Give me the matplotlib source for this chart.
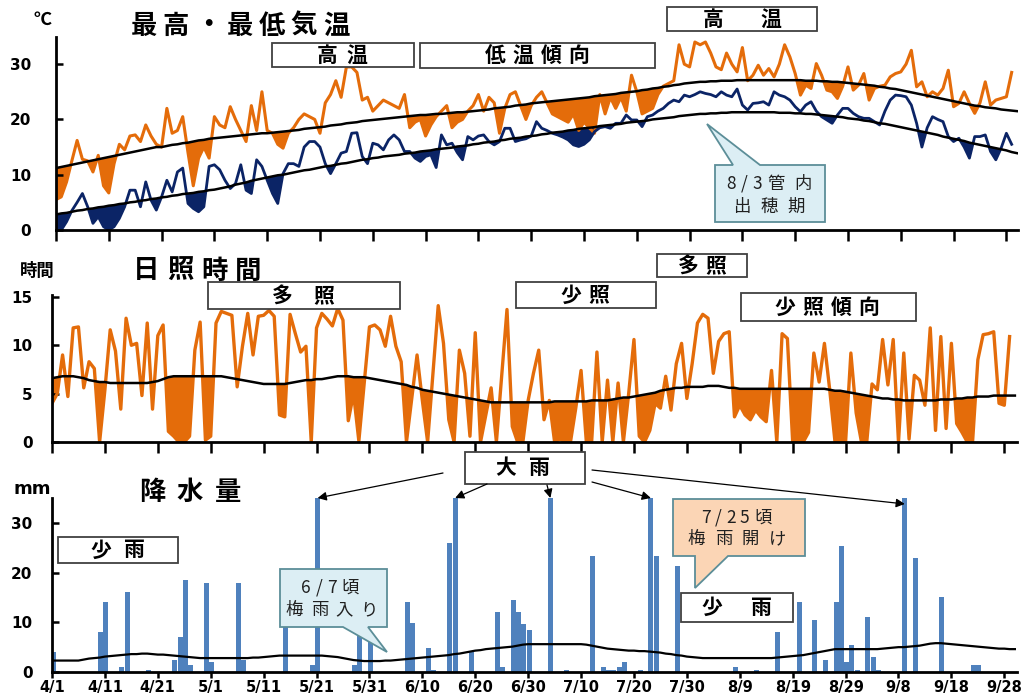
import matplotlib
matplotlib.use('Agg')
import matplotlib.pyplot as plt
import numpy as np
from matplotlib.patches import Rectangle, Polygon

FAM = ['Noto Sans CJK JP', 'DejaVu Sans']
plt.rcParams['font.family'] = FAM

# ---------------- data ----------------
tick_days = list(range(0, 181, 10))
tick_labels = ['4/1', '4/11', '4/21', '5/1', '5/11', '5/21', '5/31', '6/10', '6/20', '6/30',
               '7/10', '7/20', '7/30', '8/9', '8/19', '8/29', '9/8', '9/18', '9/28']

tmax = [5.5, 6.0, 8.7, 12.5, 16.2, 12.8, 12.5, 10.5, 13.5, 8.0,
        6.7, 12.0, 15.5, 14.5, 17.0, 17.2, 16.0, 19.0, 17.0, 15.5,
        15.0, 22.0, 17.5, 18.0, 20.5, 14.0, 8.0, 13.0, 15.0, 13.0,
        20.5, 19.0, 18.5, 22.3, 20.0, 18.0, 16.0, 22.5, 18.0, 25.0,
        18.0, 17.5, 15.5, 14.8, 17.5, 18.5, 20.0, 21.0, 20.5, 20.0,
        17.5, 23.0, 24.5, 27.0, 24.0, 29.5, 29.5, 28.5, 23.5, 24.0,
        21.5, 22.5, 23.5, 23.0, 22.5, 22.0, 24.5, 18.5, 19.5, 20.0,
        17.0, 19.0, 20.5, 21.5, 22.5, 18.5, 19.5, 20.0, 21.5, 22.5,
        24.5, 21.5, 24.0, 23.0, 17.5, 22.0, 24.5, 25.0, 22.5, 20.0,
        22.5, 24.0, 25.0, 23.0, 21.0, 20.5, 20.0, 19.5, 21.0, 18.0,
        19.5, 18.5, 17.5, 24.5, 21.0, 24.0, 22.0, 24.0, 21.5, 28.0,
        25.0, 21.0, 21.5, 22.0, 24.5, 26.0, 26.5, 27.0, 33.5, 30.0,
        29.5, 34.0, 33.5, 34.0, 32.0, 29.5, 29.0, 32.0, 30.0, 28.6,
        33.0, 27.0, 28.0, 29.8, 28.0, 29.2, 27.7, 30.0, 33.5, 31.3,
        28.3, 24.4, 26.2, 25.6, 30.1, 28.0, 25.3, 25.0, 23.8, 26.0,
        29.5, 25.3, 26.2, 28.3, 23.5, 25.6, 26.0, 26.2, 27.7, 28.3,
        28.6, 30.0, 32.5, 25.9, 26.8, 24.1, 25.0, 24.4, 25.6, 28.9,
        22.3, 22.9, 25.0, 22.9, 21.1, 23.0, 26.8, 22.6, 23.5, 23.8,
        24.1, 28.5]

tmin = [0.0, 0.0, 1.5, 3.5, 5.0, 6.6, 4.2, 1.2, 2.4, 0.6,
        0.0, 0.6, 2.1, 4.2, 7.2, 7.2, 4.2, 8.7, 5.4, 3.6,
        6.0, 9.0, 6.9, 10.5, 11.2, 4.8, 3.9, 3.3, 4.2, 11.5,
        11.8, 10.9, 9.0, 7.5, 8.4, 11.8, 7.2, 6.6, 12.7, 11.5,
        9.0, 6.6, 4.8, 10.2, 12.0, 12.0, 11.5, 15.0, 16.0, 16.0,
        15.0, 12.0, 10.2, 12.0, 13.9, 14.2, 17.5, 17.6, 13.3, 12.0,
        15.7, 15.4, 14.5, 16.3, 17.2, 16.3, 14.2, 14.2, 13.0, 12.4,
        13.3, 13.6, 11.3, 17.2, 15.4, 15.7, 14.0, 12.7, 16.9, 16.3,
        17.0, 17.2, 16.0, 15.4, 16.0, 18.4, 18.4, 16.0, 16.3, 16.5,
        17.0, 19.6, 18.4, 18.0, 17.5, 17.2, 16.8, 16.3, 15.4, 15.1,
        15.5, 16.3, 17.8, 18.5, 18.7, 18.4, 19.3, 19.3, 20.8, 19.9,
        19.9, 18.7, 20.5, 20.8, 21.5, 22.0, 22.9, 23.5, 23.2, 24.4,
        24.1, 24.5, 25.0, 24.7, 24.5, 24.1, 25.0, 24.4, 24.1, 25.5,
        22.6, 21.7, 22.9, 23.0, 23.2, 22.6, 25.0, 24.4, 24.1, 23.5,
        22.3, 21.4, 22.6, 23.2, 21.5, 20.5, 19.9, 19.3, 20.8, 22.0,
        22.0, 21.1, 20.5, 20.2, 20.2, 19.6, 19.0, 21.5, 23.5, 24.4,
        24.3, 24.1, 22.6, 19.3, 15.0, 18.5, 20.5, 20.0, 19.6, 16.9,
        16.0, 16.6, 15.0, 13.0, 16.9, 16.9, 17.2, 14.2, 12.7, 14.8,
        17.5, 15.5]

tmax_normal = [11.2, 11.4, 11.6, 11.8, 12.0, 12.2, 12.4, 12.6, 12.8, 13.0,
               13.2, 13.4, 13.6, 13.8, 14.0, 14.2, 14.4, 14.6, 14.8, 15.0,
               15.0, 15.2, 15.4, 15.5, 15.7, 15.8, 16.0, 16.2, 16.3, 16.5,
               16.6, 16.7, 16.8, 16.9, 17.0, 17.1, 17.2, 17.3, 17.4, 17.5,
               17.5, 17.6, 17.7, 17.8, 17.9, 18.0, 18.1, 18.3, 18.4, 18.5,
               18.6, 18.7, 18.9, 19.0, 19.1, 19.3, 19.4, 19.5, 19.7, 19.8,
               19.9, 20.0, 20.1, 20.2, 20.3, 20.4, 20.5, 20.6, 20.7, 20.8,
               20.8, 20.9, 21.0, 21.0, 21.1, 21.2, 21.3, 21.3, 21.4, 21.5,
               21.6, 21.7, 21.8, 22.0, 22.1, 22.2, 22.3, 22.5, 22.6, 22.7,
               22.9, 23.0, 23.1, 23.2, 23.3, 23.4, 23.5, 23.6, 23.7, 23.8,
               23.9, 24.0, 24.2, 24.3, 24.4, 24.5, 24.6, 24.8, 24.9, 25.0,
               25.1, 25.3, 25.4, 25.6, 25.7, 25.9, 26.0, 26.2, 26.3, 26.5,
               26.6, 26.7, 26.8, 26.8, 26.9, 26.9, 27.0, 27.0, 27.0, 27.1,
               27.1, 27.1, 27.1, 27.1, 27.1, 27.1, 27.1, 27.1, 27.1, 27.1,
               27.1, 27.1, 27.0, 27.0, 27.0, 26.9, 26.9, 26.8, 26.8, 26.7,
               26.6, 26.5, 26.4, 26.3, 26.2, 26.1, 25.9, 25.8, 25.6, 25.5,
               25.3, 25.1, 24.9, 24.7, 24.5, 24.3, 24.1, 23.9, 23.7, 23.5,
               23.3, 23.1, 22.9, 22.7, 22.5, 22.4, 22.2, 22.1, 22.0, 21.8,
               21.7, 21.6, 21.5]

tmin_normal = [2.8, 3.0, 3.1, 3.3, 3.5, 3.6, 3.8, 3.9, 4.1, 4.2,
               4.4, 4.5, 4.7, 4.8, 5.0, 5.1, 5.3, 5.4, 5.6, 5.7,
               5.9, 6.0, 6.2, 6.3, 6.5, 6.6, 6.7, 6.9, 7.0, 7.2,
               7.3, 7.5, 7.7, 7.9, 8.2, 8.4, 8.6, 8.9, 9.1, 9.3,
               9.5, 9.7, 9.9, 10.0, 10.2, 10.4, 10.6, 10.8, 10.9, 11.1,
               11.3, 11.5, 11.6, 11.8, 12.0, 12.1, 12.3, 12.5, 12.7, 12.8,
               13.0, 13.1, 13.3, 13.4, 13.5, 13.6, 13.8, 13.9, 14.0, 14.2,
               14.3, 14.4, 14.6, 14.7, 14.8, 14.9, 15.1, 15.2, 15.3, 15.5,
               15.6, 15.8, 15.9, 16.0, 16.2, 16.3, 16.5, 16.6, 16.7, 16.9,
               17.0, 17.1, 17.3, 17.4, 17.6, 17.7, 17.8, 18.0, 18.1, 18.3,
               18.4, 18.5, 18.6, 18.8, 18.9, 19.0, 19.1, 19.2, 19.4, 19.5,
               19.6, 19.7, 19.8, 20.0, 20.1, 20.2, 20.3, 20.4, 20.6, 20.7,
               20.8, 20.9, 21.0, 21.0, 21.1, 21.1, 21.2, 21.2, 21.3, 21.3,
               21.3, 21.3, 21.3, 21.3, 21.3, 21.3, 21.3, 21.2, 21.2, 21.2,
               21.1, 21.1, 21.0, 21.0, 20.9, 20.8, 20.7, 20.6, 20.5, 20.4,
               20.2, 20.1, 20.0, 19.8, 19.7, 19.5, 19.3, 19.2, 19.0, 18.8,
               18.6, 18.4, 18.2, 18.0, 17.8, 17.6, 17.4, 17.2, 16.9, 16.7,
               16.5, 16.3, 16.1, 15.8, 15.6, 15.4, 15.2, 15.0, 14.8, 14.6,
               14.4, 14.1, 13.9]

sunshine = [4.0, 5.0, 9.0, 4.7, 11.8, 11.9, 5.6, 8.3, 7.6, 0.0,
            5.4, 11.6, 9.4, 3.4, 12.8, 10.0, 10.2, 4.8, 12.3, 3.4,
            11.0, 12.1, 1.1, 0.6, 0.0, 0.0, 0.6, 9.5, 12.4, 0.2,
            0.6, 12.3, 13.5, 13.3, 13.1, 5.7, 9.9, 13.3, 9.0, 13.0,
            13.1, 13.6, 13.0, 2.8, 2.6, 13.2, 11.2, 9.3, 9.9, 0.0,
            11.8, 13.3, 12.7, 12.0, 13.8, 12.6, 2.2, 5.0, 0.1, 6.0,
            11.9, 12.1, 11.6, 9.9, 13.0, 9.9, 8.3, 0.0, 4.5, 9.0,
            4.3, 0.0, 7.0, 14.1, 10.2, 2.3, 0.0, 9.5, 7.1, 0.6,
            11.3, 0.0, 2.8, 5.6, 0.0, 6.8, 13.7, 1.6, 0.0, 0.0,
            4.3, 7.1, 9.5, 2.3, 4.3, 0.0, 0.3, 0.0, 0.0, 3.5,
            7.4, 0.0, 0.0, 9.3, 0.0, 6.4, 0.0, 6.1, 0.0, 5.0,
            10.6, 0.6, 0.0, 1.2, 4.0, 3.5, 6.8, 3.3, 8.1, 10.2,
            4.5, 8.1, 12.3, 13.2, 12.8, 7.1, 10.4, 11.2, 11.4, 2.6,
            3.8, 2.8, 2.3, 3.3, 2.6, 2.1, 7.4, 0.0, 11.2, 10.7,
            0.0, 0.0, 0.0, 1.0, 9.2, 6.2, 10.2, 5.4, 0.0, 0.0,
            0.0, 9.2, 3.0, 0.0, 0.0, 6.0, 5.4, 10.6, 5.9, 10.6,
            0.0, 9.2, 0.3, 6.9, 6.4, 3.8, 11.8, 1.2, 10.9, 1.4,
            10.2, 1.9, 1.0, 0.0, 0.0, 8.5, 11.1, 11.2, 11.4, 4.0,
            3.8, 10.9]

sunshine_normal = [6.6, 6.7, 6.8, 6.8, 6.8, 6.7, 6.6, 6.4, 6.3, 6.2,
                   6.2, 6.1, 6.1, 6.1, 6.1, 6.1, 6.1, 6.1, 6.1, 6.2,
                   6.3, 6.5, 6.7, 6.8, 6.8, 6.8, 6.8, 6.8, 6.8, 6.8,
                   6.8, 6.8, 6.8, 6.7, 6.6, 6.5, 6.4, 6.3, 6.2, 6.1,
                   6.0, 6.0, 6.0, 6.0, 6.0, 6.1, 6.2, 6.3, 6.4, 6.4,
                   6.5, 6.5, 6.6, 6.7, 6.8, 6.8, 6.8, 6.7, 6.7, 6.7,
                   6.6, 6.5, 6.4, 6.3, 6.2, 6.1, 6.0, 5.9, 5.7, 5.6,
                   5.4, 5.3, 5.2, 5.1, 5.0, 4.9, 4.8, 4.7, 4.6, 4.5,
                   4.4, 4.3, 4.2, 4.1, 4.1, 4.1, 4.1, 4.1, 4.1, 4.1,
                   4.1, 4.1, 4.1, 4.1, 4.1, 4.2, 4.2, 4.2, 4.2, 4.2,
                   4.2, 4.2, 4.3, 4.3, 4.3, 4.3, 4.4, 4.5, 4.6, 4.6,
                   4.7, 4.8, 4.9, 5.0, 5.1, 5.3, 5.4, 5.5, 5.6, 5.6,
                   5.7, 5.7, 5.7, 5.7, 5.8, 5.8, 5.8, 5.7, 5.6, 5.6,
                   5.5, 5.5, 5.5, 5.5, 5.5, 5.5, 5.5, 5.5, 5.5, 5.5,
                   5.5, 5.5, 5.5, 5.5, 5.5, 5.5, 5.5, 5.4, 5.3, 5.3,
                   5.2, 5.1, 5.0, 4.9, 4.8, 4.7, 4.6, 4.5, 4.5, 4.4,
                   4.4, 4.3, 4.3, 4.3, 4.3, 4.3, 4.3, 4.3, 4.4, 4.4,
                   4.4, 4.5, 4.5, 4.6, 4.6, 4.7, 4.7, 4.7, 4.8, 4.8,
                   4.8, 4.8, 4.8]

rain_days = [0, 9, 10, 13, 14, 18, 23, 24, 25, 26, 29, 30, 35, 36, 44, 49, 50, 57, 58, 60,
             67, 68, 71, 72, 75, 76, 79, 84, 85, 87, 88, 89, 90, 94, 97, 102, 104, 105, 106,
             107, 108, 111, 113, 114, 118, 129, 133, 137, 141, 144, 146, 148, 149, 150, 151,
             152, 154, 155, 156, 161, 163, 168, 174, 175]
rain_mm = [4.0, 8.0, 14.0, 1.0, 16.0, 0.4, 2.5, 7.0, 18.5, 1.5, 18.0, 2.0, 18.0, 2.5, 9.0, 1.5, 35.0,
           1.5, 7.5, 6.0, 14.0, 9.8, 4.8, 0.4, 26.0, 35.0, 4.3, 12.0, 1.0, 14.5, 12.0, 9.7, 8.5,
           35.0, 0.4, 23.4, 1.0, 0.5, 0.5, 1.0, 2.0, 0.4, 35.0, 23.4, 21.3, 1.0, 0.5, 8.0, 14.0,
           10.5, 2.5, 14.0, 25.4, 2.0, 5.4, 0.4, 11.0, 3.0, 0.4, 35.0, 23.0, 15.0, 1.5, 1.5]

rain_normal = [2.3, 2.3, 2.3, 2.3, 2.3, 2.3, 2.5, 2.7, 2.8, 2.9,
               3.1, 3.2, 3.3, 3.4, 3.5, 3.6, 3.6, 3.7, 3.7, 3.6,
               3.5, 3.5, 3.4, 3.3, 3.2, 3.1, 3.0, 2.9, 2.8, 2.8,
               2.8, 2.8, 2.8, 2.8, 2.8, 2.8, 2.8, 2.8, 2.9, 2.9,
               3.0, 3.1, 3.2, 3.3, 3.3, 3.3, 3.3, 3.3, 3.3, 3.3,
               3.3, 3.3, 3.2, 3.1, 3.0, 2.8, 2.6, 2.4, 2.3, 2.2,
               2.2, 2.2, 2.2, 2.3, 2.3, 2.4, 2.5, 2.6, 2.7, 2.8,
               2.9, 3.0, 3.1, 3.2, 3.3, 3.4, 3.6, 3.7, 3.9, 4.1,
               4.3, 4.4, 4.6, 4.7, 4.8, 4.9, 5.0, 5.1, 5.3, 5.5,
               5.6, 5.6, 5.6, 5.6, 5.6, 5.6, 5.6, 5.6, 5.6, 5.6,
               5.6, 5.5, 5.3, 5.1, 4.9, 4.7, 4.6, 4.5, 4.4, 4.3,
               4.3, 4.2, 4.2, 4.1, 4.0, 3.9, 3.7, 3.6, 3.4, 3.3,
               3.1, 3.0, 2.9, 2.8, 2.8, 2.8, 2.8, 2.8, 2.8, 2.8,
               2.8, 2.8, 2.8, 2.8, 2.8, 2.8, 2.8, 2.9, 3.0, 3.1,
               3.2, 3.3, 3.4, 3.6, 3.8, 4.0, 4.2, 4.4, 4.6, 4.6,
               4.6, 4.6, 4.6, 4.6, 4.6, 4.6, 4.6, 4.7, 4.8, 4.9,
               5.0, 5.0, 5.1, 5.2, 5.3, 5.5, 5.7, 5.8, 5.8, 5.7,
               5.6, 5.5, 5.4, 5.3, 5.2, 5.1, 5.0, 4.9, 4.8, 4.7,
               4.7, 4.6, 4.6]

heavy_rain_days = [50, 76, 94, 113, 161]

# ---------------- styling ----------------
ORANGE = '#E46C0A'
NAVY = '#0B2466'
BLUE = '#4F81BD'

W, H = 1030, 697
fig = plt.figure(figsize=(W / 100, H / 100), dpi=100)

days = np.arange(len(tmax))
ndays = np.arange(len(tmax_normal))
n = len(tmax)


def px_axes(left, top, right, bottom):
    return fig.add_axes([left / W, (H - bottom) / H, (right - left) / W, (bottom - top) / H])


def style(ax, ylim, yticks, xlen, ypad, xlim):
    ax.set_xlim(*xlim)
    ax.set_ylim(*ylim)
    ax.spines['top'].set_visible(False)
    ax.spines['right'].set_visible(False)
    for s in ('left', 'bottom'):
        ax.spines[s].set_linewidth(2.0)
    ax.set_yticks(yticks)
    ax.set_xticks(tick_days)
    ax.tick_params(axis='y', direction='in', length=5, width=1.8, pad=ypad)
    ax.tick_params(axis='x', direction='out', length=xlen, width=1.8)
    for lab in ax.get_yticklabels():
        lab.set_fontfamily('DejaVu Sans')
        lab.set_fontweight('bold')
        lab.set_fontsize(11)


# ---- top: temperature
ax1 = px_axes(56, 36.5, 1018, 230)
ax1.fill_between(days, tmax, tmax_normal[:n], where=np.array(tmax) < np.array(tmax_normal[:n]),
                 interpolate=True, color=ORANGE, lw=0, zorder=1)
ax1.fill_between(days, tmin, tmin_normal[:n], where=np.array(tmin) < np.array(tmin_normal[:n]),
                 interpolate=True, color=NAVY, lw=0, zorder=1)
ax1.plot(days, tmax, color=ORANGE, lw=2.2, zorder=2)
ax1.plot(days, tmin, color=NAVY, lw=2.0, zorder=2)
ax1.plot(ndays, tmax_normal, color='black', lw=1.8, zorder=3)
ax1.plot(ndays, tmin_normal, color='black', lw=1.8, zorder=3)
style(ax1, (0, 35), [0, 10, 20, 30], 8, 18, (0, 182.2))
ax1.set_xticklabels([])

# ---- middle: sunshine
ax2 = px_axes(52, 295, 1017, 442)
sn = np.array(sunshine_normal[:n])
ax2.fill_between(days, sunshine, sn, where=np.array(sunshine) < sn,
                 interpolate=True, color=ORANGE, lw=0, zorder=1)
ax2.plot(days, sunshine, color=ORANGE, lw=2.4, zorder=2)
ax2.plot(ndays, sunshine_normal, color='black', lw=1.8, zorder=3)
style(ax2, (0, 15.2), [0, 5, 10, 15], 8, 14, (0, 182.4))
ax2.set_xticklabels([])

# ---- bottom: precipitation
ax3 = px_axes(52, 498, 1017, 672)
ax3.bar(np.array(rain_days) + 0.2, rain_mm, width=0.95, color=BLUE, lw=0, zorder=2)
ax3.plot(ndays, rain_normal, color='black', lw=1.6, zorder=3)
style(ax3, (0, 35), [0, 10, 20, 30], 4, 14, (0, 182.4))
ax3.set_xticklabels(tick_labels, fontfamily='DejaVu Sans', fontweight='bold', fontsize=10.5)
ax3.tick_params(axis='x', pad=2)

# ---------------- overlay annotations (pixel coordinates) ----------------
ov = fig.add_axes([0, 0, 1, 1], zorder=10)
ov.set_xlim(0, W)
ov.set_ylim(H, 0)
ov.axis('off')
ov.patch.set_alpha(0)


def spaced(cx, cy, s, pitch, size, weight='bold', color='black', narrow=None):
    """Place characters one by one; ASCII characters advance by `narrow` px."""
    if narrow is None:
        narrow = pitch
    adv = [narrow if ord(ch) < 128 else pitch for ch in s]
    total = sum(adv)
    x = cx - total / 2
    for ch, a in zip(s, adv):
        ov.text(x + a / 2, cy, ch, ha='center', va='center',
                fontsize=size, fontweight=weight, color=color, family=FAM, zorder=8)
        x += a


def box(x0, y0, x1, y1):
    ov.add_patch(Rectangle((x0, y0), x1 - x0, y1 - y0, facecolor='white',
                           edgecolor='#404040', lw=1.3, zorder=5))


def callout(verts, face, edge='#5C8E98'):
    ov.add_patch(Polygon(verts, closed=True, facecolor=face, edgecolor=edge, lw=1.3, zorder=5))


# titles / units
ov.text(42, 19, '℃', ha='center', va='center', fontsize=13, fontweight='bold', family=FAM, zorder=8)
spaced(240, 26, '最高・最低気温', 32, 19)
ov.text(37, 271, '時間', ha='center', va='center', fontsize=12.5, fontweight='bold', family=FAM, zorder=8)
spaced(197, 271, '日照時間', 34, 19)
ov.text(32, 489, 'mm', ha='center', va='center', fontsize=13, fontweight='bold',
        family='DejaVu Sans', zorder=8)
spaced(190, 492, '降水量', 38, 19)

# temperature boxes
box(272, 43, 414, 67)
spaced(342, 55, '高温', 29, 15)
box(420, 43, 655, 68)
spaced(537, 55, '低温傾向', 28, 15)
box(667, 7, 817, 31)
spaced(742, 19, '高温', 57, 15)
callout([(715, 165), (733, 165), (707, 124), (760, 165), (825, 165), (825, 222), (715, 222)],
        '#DCEEF4')
spaced(770, 184, '8/3管内', 26, 12.5, weight='normal', color='#202020', narrow=13)
spaced(769, 207, '出穂期', 27, 12.5, weight='normal', color='#202020')

# sunshine boxes
box(208, 282, 400, 309)
spaced(303, 296, '多照', 42, 15)
box(516, 282, 656, 308)
spaced(585, 295, '少照', 28, 15)
box(657, 254, 747, 277)
spaced(702, 266, '多照', 27, 15)
box(741, 293, 916, 321)
spaced(827, 307, '少照傾向', 28, 15)

# precipitation boxes
box(58, 537, 178, 563)
spaced(117, 550, '少雨', 33, 15)
box(465, 452, 585, 484)
spaced(522, 468, '大雨', 33, 15)
box(681, 593, 793, 622)
spaced(736, 607, '少雨', 48, 15)
callout([(280, 569), (387, 569), (387, 627), (368, 627), (387, 652), (343, 627), (280, 627)],
        '#DCEEF4')
spaced(331, 588, '6/7頃', 24, 12.5, weight='normal', color='#202020', narrow=13)
spaced(332, 610, '梅雨入り', 25, 12.5, weight='normal', color='#202020')
callout([(673, 499), (805, 499), (805, 556), (728, 556), (695, 588), (695, 556), (673, 556)],
        '#FBD5B5')
spaced(737, 518, '7/25頃', 24, 12.5, weight='normal', color='#202020', narrow=13)
spaced(737, 539, '梅雨開け', 27, 12.5, weight='normal', color='#202020')

# arrows from the 大雨 box to the heavy-rain bars
sources = [(443, 473), (487, 484), (547, 485), (592, 482), (592, 470)]
rain_lookup = dict(zip(rain_days, rain_mm))
for (sx, sy), d in zip(sources, heavy_rain_days):
    tgt = (d + 0.2, rain_lookup[d] - (1.2 if d == heavy_rain_days[-1] else 0))
    ov.annotate('', xy=tgt, xycoords=ax3.transData, xytext=(sx, sy), textcoords='data',
                arrowprops=dict(arrowstyle='-|>', color='black', lw=0.9, mutation_scale=13,
                                shrinkA=0, shrinkB=0), zorder=6)

fig.savefig('out.png', dpi=100)
